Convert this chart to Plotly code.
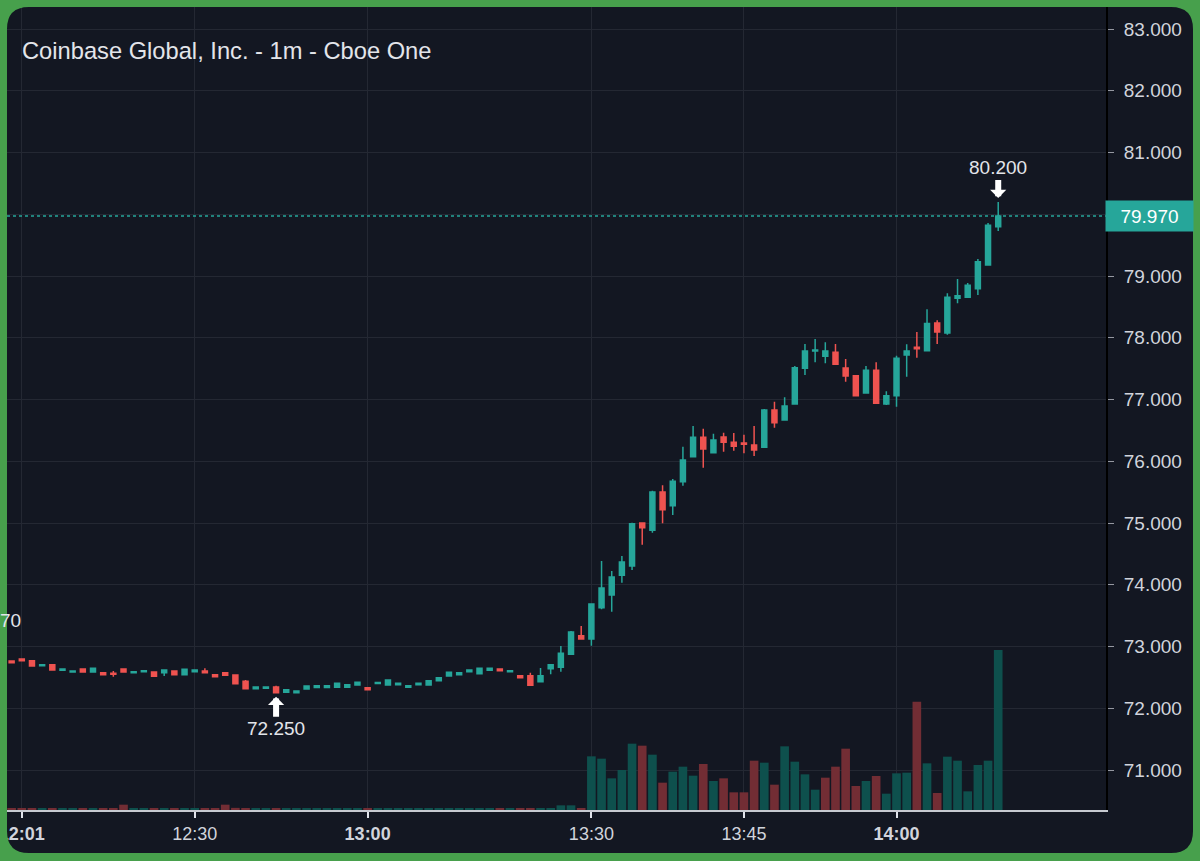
import numpy as np
import plotly.graph_objects as go

# ---------------- data ----------------
times = [
    "11:58", "12:01",
    "12:03", "12:04", "12:06", "12:08", "12:09", "12:11", "12:13", "12:14",
    "12:16", "12:18", "12:20", "12:21", "12:23", "12:25", "12:27", "12:28",
    "12:30",
    "12:31", "12:33", "12:35", "12:36", "12:38", "12:40", "12:41", "12:43",
    "12:45", "12:47", "12:48", "12:50", "12:52", "12:54", "12:56", "12:58",
    "13:00",
    "13:01", "13:02", "13:04", "13:05", "13:06", "13:08", "13:09", "13:11",
    "13:12", "13:14", "13:15", "13:17", "13:18", "13:20", "13:21", "13:23",
    "13:24", "13:25", "13:27", "13:28", "13:29",
    "13:30",
    "13:31", "13:32", "13:33", "13:34", "13:35", "13:36", "13:37", "13:38",
    "13:39", "13:40", "13:41", "13:42", "13:43", "13:44", "13:45", "13:46",
    "13:47", "13:48", "13:49", "13:50", "13:51", "13:52", "13:53", "13:54",
    "13:55", "13:56", "13:57", "13:58", "13:59", "14:00", "14:01", "14:02",
    "14:03", "14:04", "14:05", "14:06", "14:07", "14:08", "14:09", "14:10",
]

opens = [
    72.765, 72.797, 72.770, 72.690, 72.706, 72.614, 72.587, 72.636, 72.587, 72.576,
    72.565, 72.636, 72.576, 72.592, 72.587, 72.576, 72.603, 72.544, 72.592, 72.603,
    72.544, 72.576, 72.538, 72.436, 72.314, 72.322, 72.344, 72.258, 72.253, 72.312,
    72.335, 72.335, 72.340, 72.340, 72.377, 72.333, 72.400, 72.377, 72.382, 72.340,
    72.382, 72.377, 72.446, 72.522, 72.544, 72.592, 72.560, 72.614, 72.636, 72.590,
    72.528, 72.528, 72.430, 72.640, 72.663, 72.873, 73.175, 73.120, 73.629, 73.834,
    74.152, 74.303, 74.999, 74.881, 75.502, 75.281, 75.669, 76.074, 76.390, 76.139,
    76.393, 76.306, 76.296, 76.263, 76.225, 76.830, 76.668, 76.927, 77.505, 77.785,
    77.699, 77.764, 77.510, 77.386, 77.105, 77.472, 76.927, 77.062, 77.721, 77.845,
    77.790, 78.240, 78.075, 78.638, 78.654, 78.795, 79.178, 79.799,
]

highs = [
    72.765, 72.797, 72.770, 72.706, 72.706, 72.636, 72.603, 72.636, 72.646, 72.576,
    72.603, 72.636, 72.592, 72.608, 72.587, 72.620, 72.603, 72.630, 72.620, 72.646,
    72.544, 72.576, 72.538, 72.457, 72.344, 72.344, 72.365, 72.300, 72.280, 72.360,
    72.365, 72.365, 72.404, 72.382, 72.420, 72.333, 72.415, 72.457, 72.404, 72.365,
    72.404, 72.446, 72.495, 72.582, 72.576, 72.620, 72.646, 72.646, 72.636, 72.607,
    72.528, 72.576, 72.652, 72.706, 73.008, 73.250, 73.332, 73.688, 74.385, 74.223,
    74.466, 75.005, 74.999, 75.524, 75.610, 75.713, 76.236, 76.571, 76.525, 76.447,
    76.460, 76.457, 76.430, 76.571, 76.846, 76.965, 77.035, 77.543, 77.899, 77.980,
    77.926, 77.899, 77.656, 77.386, 77.542, 77.602, 77.132, 77.710, 77.893, 78.093,
    78.463, 78.285, 78.719, 78.951, 78.887, 79.275, 79.858, 80.200,
]

lows = [
    72.738, 72.770, 72.684, 72.690, 72.620, 72.614, 72.587, 72.587, 72.587, 72.544,
    72.511, 72.587, 72.576, 72.592, 72.517, 72.522, 72.544, 72.544, 72.592, 72.576,
    72.511, 72.533, 72.398, 72.317, 72.314, 72.322, 72.250, 72.258, 72.253, 72.312,
    72.335, 72.335, 72.340, 72.340, 72.377, 72.301, 72.400, 72.377, 72.382, 72.340,
    72.382, 72.377, 72.446, 72.522, 72.544, 72.592, 72.560, 72.614, 72.608, 72.590,
    72.495, 72.371, 72.430, 72.550, 72.590, 72.873, 73.120, 73.013, 73.602, 73.564,
    74.034, 74.240, 74.649, 74.843, 74.994, 75.130, 75.605, 76.074, 75.896, 76.139,
    76.155, 76.171, 76.128, 76.085, 76.225, 76.544, 76.668, 76.927, 77.397, 77.602,
    77.586, 77.570, 77.289, 77.062, 77.105, 76.938, 76.910, 76.884, 77.370, 77.677,
    77.790, 77.900, 78.050, 78.557, 78.654, 78.692, 79.178, 79.729,
]

closes = [
    72.738, 72.770, 72.684, 72.706, 72.620, 72.636, 72.603, 72.587, 72.646, 72.544,
    72.549, 72.587, 72.592, 72.608, 72.517, 72.620, 72.544, 72.630, 72.620, 72.576,
    72.511, 72.533, 72.398, 72.317, 72.344, 72.344, 72.250, 72.300, 72.280, 72.360,
    72.365, 72.365, 72.404, 72.382, 72.420, 72.301, 72.415, 72.457, 72.404, 72.365,
    72.404, 72.446, 72.495, 72.582, 72.576, 72.620, 72.646, 72.646, 72.608, 72.607,
    72.495, 72.371, 72.528, 72.706, 72.889, 73.235, 73.120, 73.688, 73.947, 74.126,
    74.368, 74.989, 74.924, 75.502, 75.216, 75.675, 76.020, 76.390, 76.198, 76.344,
    76.306, 76.242, 76.274, 76.182, 76.830, 76.625, 76.895, 77.516, 77.785, 77.800,
    77.785, 77.570, 77.380, 77.062, 77.472, 76.938, 77.062, 77.667, 77.785, 77.823,
    78.230, 78.093, 78.657, 78.681, 78.849, 79.232, 79.820, 79.970,
]

volumes = [
    200, 220, 210, 190, 230, 200, 180, 210, 200, 190,
    220, 800, 200, 190, 210, 300, 200, 220, 190, 210,
    200, 800, 320, 210, 190, 200, 300, 200, 190, 210,
    200, 190, 200, 210, 190, 200, 190, 210, 200, 190,
    200, 210, 200, 220, 190, 200, 210, 200, 190, 200,
    210, 230, 240, 260, 700, 700, 300, 8050, 7700, 4750,
    6000, 9950, 9650, 8300, 4100, 5750, 6500, 5150, 6900, 4350,
    4750, 2650, 2650, 7400, 7100, 3800, 9550, 7250, 5350, 3050,
    4850, 6500, 9200, 3600, 4350, 5100, 2450, 5500, 5600, 16250,
    7000, 2550, 8000, 7400, 2800, 6750, 7400, 24000,
]
# bars whose volume column is coloured "down" although the candle closed flat/up
volume_down_minutes = ["13:53"]

tick_minutes = ["12:01", "12:30", "13:00", "13:30", "13:45", "14:00"]
tick_labels = ["<b>12:01</b>", "12:30", "<b>13:00</b>", "13:30", "13:45", "<b>14:00</b>"]
price_ticks = [71, 72, 73, 74, 75, 76, 77, 78, 79, 80, 81, 82, 83]
# the 80 label sits under the last-price tag in the reference
price_tick_labels = ["71.000", "72.000", "73.000", "74.000", "75.000", "76.000", "77.000",
                     "78.000", "79.000", "", "81.000", "82.000", "83.000"]

title_text = "Coinbase Global, Inc. - 1m - Cboe One"
edge_label = "70"

# ---------------- style ----------------
W, H = 1200, 861
UP = "#26a69a"
DN = "#ef5350"
UP_VOL = "#0e504d"
DN_VOL = "#722d34"
PANEL = "#131722"
FRAME = "#47a04c"
GRID = "#242833"
TXT = "#d1d4dc"
FONT = "Liberation Sans, Arial, sans-serif"

# pixel geometry of the panel / plot area
PL, PR, PT, PB = 7, 1106, 7, 810
FR_L, FR_T, FR_R, FR_B, RAD = 7, 7, 1193, 853, 22
BAR_STEP = 10.171          # px per bar
FIRST_CENTER = 11.63       # px of the first category

def px(x, y):
    return f"{x / W:.5f},{1 - y / H:.5f}"

frame_path = (
    f"M{px(0, 0)} L{px(W, 0)} L{px(W, H)} L{px(0, H)} Z "
    f"M{px(FR_L, FR_T + RAD)} L{px(FR_L, FR_B - RAD)} Q{px(FR_L, FR_B)} {px(FR_L + RAD, FR_B)} "
    f"L{px(FR_R - RAD, FR_B)} Q{px(FR_R, FR_B)} {px(FR_R, FR_B - RAD)} "
    f"L{px(FR_R, FR_T + RAD)} Q{px(FR_R, FR_T)} {px(FR_R - RAD, FR_T)} "
    f"L{px(FR_L + RAD, FR_T)} Q{px(FR_L, FR_T)} {px(FR_L, FR_T + RAD)} Z"
)

# axis ranges derived from pixel calibration
y_px_per_unit = 61.75
y_top_val = 83 + (29 - PT) / y_px_per_unit
y_bot_val = 83 - (PB - 29) / y_px_per_unit
x_lo = (PL - FIRST_CENTER) / BAR_STEP
x_hi = (PR - FIRST_CENTER) / BAR_STEP
vol_px = 150.0
vol_top = (PB - PT) * vol_px

vol_colors = []
for t, o, c in zip(times, opens, closes):
    up = c >= o and t not in volume_down_minutes
    vol_colors.append(UP_VOL if up else DN_VOL)

fig = go.Figure()
fig.add_trace(go.Bar(
    x=times, y=volumes, yaxis="y2", marker=dict(color=vol_colors, line=dict(width=0)),
    hoverinfo="skip", showlegend=False,
))
fig.add_trace(go.Candlestick(
    x=times, open=opens, high=highs, low=lows, close=closes,
    increasing=dict(line=dict(color=UP, width=1.5), fillcolor=UP),
    decreasing=dict(line=dict(color=DN, width=1.5), fillcolor=DN),
    whiskerwidth=0, showlegend=False,
))

i_hi = int(np.argmax(highs))
i_lo = int(np.argmin(lows))
last = closes[-1]

arrow_style = dict(showarrow=True, arrowhead=1, arrowsize=0.45, arrowwidth=6,
                   arrowcolor="#ffffff", standoff=4)
annotations = [
    dict(xref="paper", yref="paper", x=20 / W, y=1 - 51 / H, xanchor="left", yanchor="middle",
         text=title_text, showarrow=False, font=dict(family=FONT, size=23.7, color="#e3e5ea")),
    dict(x=times[i_hi], y=highs[i_hi], xref="x", yref="y", text=f"{highs[i_hi]:.3f}",
         ax=0, ay=-34, font=dict(family=FONT, size=19, color="#e3e5ea"), **arrow_style),
    dict(x=times[i_lo], y=lows[i_lo], xref="x", yref="y", text=f"{lows[i_lo]:.3f}",
         ax=0, ay=36, font=dict(family=FONT, size=19, color="#e3e5ea"), **arrow_style),
    dict(xref="paper", yref="y", x=1105 / W, y=last, xanchor="left", yanchor="middle",
         text=f"{last:.3f}", showarrow=False, bgcolor=UP, width=79, height=22, borderpad=4,
         align="center", font=dict(family=FONT, size=19, color="#ffffff")),
    dict(xref="paper", yref="paper", x=23 / W, y=1 - 620 / H, xanchor="right", yanchor="middle",
         text=edge_label, showarrow=False, font=dict(family=FONT, size=19, color="#e3e5ea")),
]

shapes = [
    dict(type="line", xref="x domain", yref="y", x0=0, x1=1, y0=last, y1=last,
         line=dict(color=UP, width=1.5, dash="3px,3px"), layer="above"),
    dict(type="path", xref="paper", yref="paper", path=frame_path, fillcolor=FRAME,
         fillrule="evenodd", line=dict(width=0), layer="above"),
]

fig.update_layout(
    width=W, height=H, autosize=False,
    margin=dict(l=0, r=0, t=0, b=0, pad=0, autoexpand=False),
    paper_bgcolor=PANEL, plot_bgcolor="rgba(0,0,0,0)",
    font=dict(family=FONT, color=TXT),
    bargap=0.15, boxgap=0.3,
    showlegend=False,
    xaxis=dict(
        type="category", domain=[PL / W, PR / W], range=[x_lo, x_hi], anchor="y",
        automargin=False,
        tickmode="array", tickvals=tick_minutes, ticktext=tick_labels,
        showgrid=True, gridcolor=GRID, gridwidth=1,
        ticks="outside", ticklen=6, tickwidth=2, tickcolor="#e0e3eb",
        showline=True, linecolor="#c7cad1", linewidth=2,
        tickfont=dict(family=FONT, size=18, color=TXT),
        rangeslider=dict(visible=False), fixedrange=True, zeroline=False,
    ),
    yaxis=dict(
        domain=[1 - PB / H, 1 - PT / H], range=[y_bot_val, y_top_val], anchor="x",
        automargin=False,
        side="right", tickmode="array", tickvals=price_ticks, ticktext=price_tick_labels,
        showgrid=True, gridcolor=GRID, gridwidth=1, zeroline=False,
        ticks="outside", ticklen=6, tickwidth=1, tickcolor="#9598a1",
        showline=True, linecolor="#000000", linewidth=2,
        tickfont=dict(family=FONT, size=19, color=TXT), ticklabelstandoff=6,
        fixedrange=True,
    ),
    yaxis2=dict(overlaying="y", range=[0, vol_top], visible=False, anchor="x",
                automargin=False, fixedrange=True),
    annotations=annotations,
    shapes=shapes,
)

fig.write_html("out.html")
